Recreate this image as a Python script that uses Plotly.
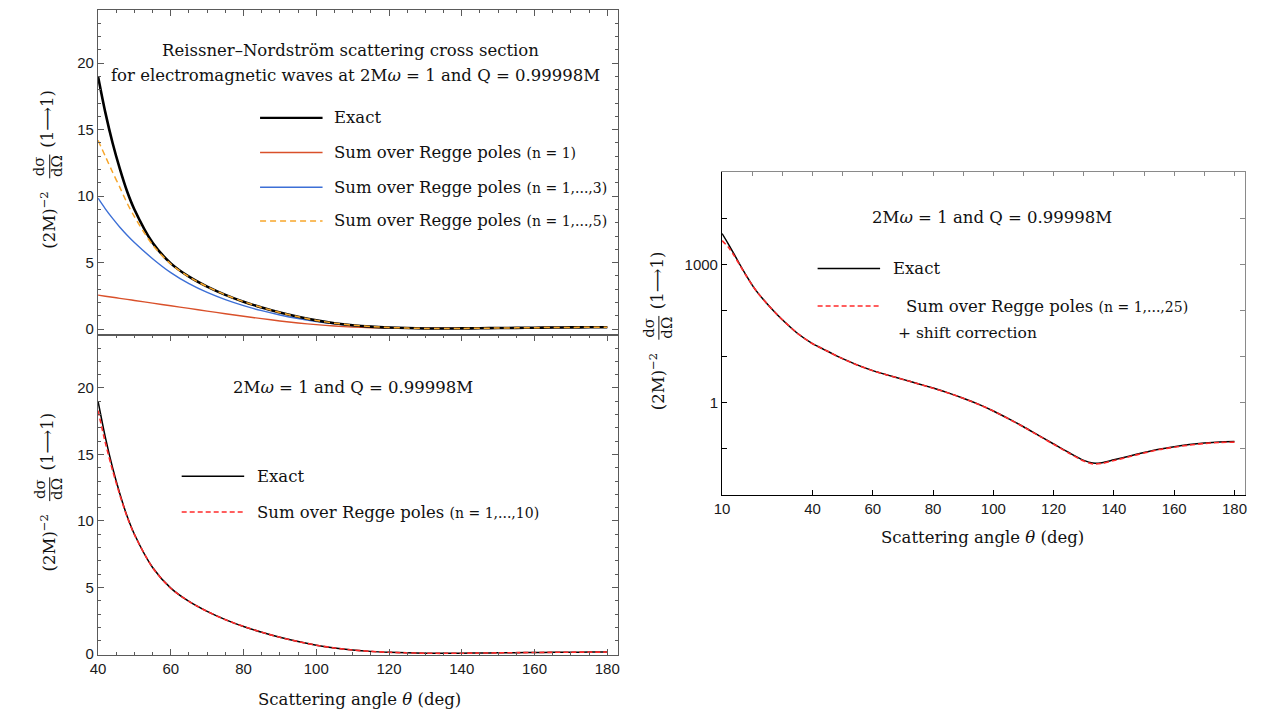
import plotly.graph_objects as go

W, H = 1265, 714

# ---------------- data ----------------
theta = [10, 12, 14, 16, 18, 20, 22, 25, 28, 30, 35, 40, 42, 44, 46, 48, 50, 55, 60, 65,
         70, 75, 80, 85, 90, 95, 100, 105, 110, 115, 120, 125, 130, 133, 136, 140, 145,
         150, 155, 160, 165, 170, 175, 180]

exact = [4650, 2820, 1660, 966, 575, 355, 234, 138, 85, 63, 32, 19.0, 16.3, 14.0, 12.05,
         10.35, 9.0, 6.5, 4.95, 3.95, 3.2, 2.58, 2.07, 1.63, 1.25, 0.93, 0.66, 0.45, 0.3,
         0.195, 0.127, 0.083, 0.056, 0.049, 0.05, 0.0575, 0.069, 0.083, 0.098, 0.111,
         0.123, 0.133, 0.14, 0.143]

regge_25_shift = [3250, 2400, 1540, 930, 565, 352, 233, 137.5, 84.8, 62.8, 31.9, 18.95,
                  16.27, 13.98, 12.03, 10.33, 8.98, 6.49, 4.94, 3.94, 3.19, 2.57, 2.06,
                  1.62, 1.245, 0.926, 0.657, 0.447, 0.298, 0.193, 0.125, 0.081, 0.054,
                  0.047, 0.048, 0.0555, 0.067, 0.081, 0.096, 0.108, 0.12, 0.13, 0.137,
                  0.139]

theta_left = theta[11:]
exact_left = exact[11:]

regge_n1 = [2.56, 2.48, 2.40, 2.32, 2.24, 2.16, 1.96, 1.76, 1.56, 1.36, 1.16, 0.97, 0.79,
            0.62, 0.47, 0.34, 0.235, 0.16, 0.11, 0.085, 0.072, 0.068, 0.07, 0.073, 0.078,
            0.087, 0.097, 0.107, 0.117, 0.127, 0.136, 0.143, 0.148]

regge_n3 = [9.85, 9.05, 8.33, 7.67, 7.07, 6.52, 5.3, 4.25, 3.42, 2.76, 2.22, 1.77, 1.39,
            1.07, 0.8, 0.58, 0.405, 0.275, 0.183, 0.122, 0.082, 0.056, 0.049, 0.05, 0.058,
            0.07, 0.084, 0.099, 0.112, 0.124, 0.134, 0.141, 0.144]

regge_n5 = [14.2, 13.0, 11.8, 10.66, 9.47, 8.46, 6.34, 4.9, 3.94, 3.2, 2.58, 2.07, 1.63,
            1.25, 0.93, 0.66, 0.45, 0.3, 0.195, 0.127, 0.083, 0.056, 0.049, 0.05, 0.0575,
            0.069, 0.083, 0.098, 0.111, 0.123, 0.133, 0.14, 0.143]

regge_n10 = [18.3, 15.9, 13.8, 11.95, 10.3, 8.97, 6.49, 4.94, 3.95, 3.2, 2.58, 2.07, 1.63,
             1.25, 0.93, 0.66, 0.45, 0.3, 0.195, 0.126, 0.082, 0.055, 0.048, 0.049, 0.057,
             0.068, 0.082, 0.097, 0.11, 0.122, 0.132, 0.139, 0.142]

x_ticks_right = [10, 40, 60, 80, 100, 120, 140, 160, 180]
y_labels_log = [1, 1000]
y_ticks_log = [0.1, 1, 10, 100, 1000, 10000]

# ---------------- style ----------------
SERIF = "DejaVu Serif"
SANS = "Liberation Sans"
FRAME = "#5a5a5a"
C_EXACT = "#000000"
C_N1 = "#D9502A"
C_N3 = "#3C6FD6"
C_N5 = "#F7A62B"
C_RED = "#FF2A2A"
FS = 16.5


def px(x):
    return x / W


def py(y):
    return 1 - y / H


fig = go.Figure()


def line(x, y, xa, ya, color, width, dash="solid"):
    fig.add_trace(go.Scatter(x=x, y=y, mode="lines", xaxis=xa, yaxis=ya, showlegend=False,
                             line=dict(color=color, width=width, dash=dash, shape="spline",
                                       smoothing=0.8)))


# top-left panel
line(theta_left, regge_n1, "x", "y", C_N1, 1.4)
line(theta_left, regge_n3, "x", "y", C_N3, 1.4)
line(theta_left, exact_left, "x", "y", C_EXACT, 2.6)
line(theta_left, regge_n5, "x", "y", C_N5, 1.5, "6px,4px")
# bottom-left panel
line(theta_left, exact_left, "x2", "y2", C_EXACT, 1.5)
line(theta_left, regge_n10, "x2", "y2", C_RED, 1.6, "5px,3px")
# right panel
line(theta, exact, "x3", "y3", C_EXACT, 1.5)
line(theta, regge_25_shift, "x3", "y3", C_RED, 1.6, "5px,3px")
# invisible traces realising the overlay axes (frame ticks of the right panel)
for xa, ya in (("x4", "y4"), ("x3", "y5")):
    fig.add_trace(go.Scatter(x=theta, y=exact, mode="lines", line=dict(width=0), opacity=0,
                             xaxis=xa, yaxis=ya, showlegend=False, hoverinfo="skip"))

tickfont = dict(family=SANS, size=15, color="#1a1a1a")

left_dom = [px(82.7), px(607)]
top_dom = [py(330), py(2)]
bot_dom = [py(653.3), py(330)]
right_xdom = [px(711.7), px(1238.5)]
right_ydom = [py(491.7), py(165.7)]

common_y_left = dict(
    tickmode="linear", tick0=0, dtick=5, ticks="inside", ticklen=6, tickwidth=1,
    tickcolor=FRAME, minor=dict(ticks="inside", dtick=1, ticklen=3, tickcolor=FRAME),
    showline=True, linecolor=FRAME, linewidth=1.2, mirror="allticks",
    showgrid=False, zeroline=False, tickfont=tickfont,
)
common_x_left = dict(
    range=[40, 183], tickmode="linear", tick0=40, dtick=20, ticks="inside", ticklen=6,
    tickwidth=1, tickcolor=FRAME,
    minor=dict(ticks="inside", dtick=5, ticklen=3, tickcolor=FRAME),
    showline=True, linecolor=FRAME, linewidth=1.2, showgrid=False, zeroline=False,
    tickfont=tickfont,
)

fig.update_layout(
    width=W, height=H,
    margin=dict(l=0, r=0, t=0, b=0),
    paper_bgcolor="white", plot_bgcolor="white",
    showlegend=False,
    xaxis=dict(common_x_left, domain=left_dom, anchor="y", side="top", mirror=True,
               showticklabels=False),
    yaxis=dict(common_y_left, domain=top_dom, anchor="x", range=[-0.42, 24.0]),
    xaxis2=dict(common_x_left, domain=left_dom, anchor="y2", mirror="allticks"),
    yaxis2=dict(common_y_left, domain=bot_dom, anchor="x2", range=[-0.07, 24.0]),
    xaxis3=dict(domain=right_xdom, anchor="y3", range=[10, 183.4], tickmode="array",
                tickvals=x_ticks_right, ticks="inside", ticklen=5, tickcolor="#000",
                showline=True, linecolor="#000", linewidth=1.2, showgrid=False,
                zeroline=False, tickfont=tickfont),
    yaxis3=dict(domain=right_ydom, anchor="x3", type="log", range=[-2, 5],
                tickmode="array", tickvals=y_labels_log, ticks="inside", ticklen=5,
                tickcolor="#000", showline=True, linecolor="#000", linewidth=1.2,
                showgrid=False, zeroline=False, tickfont=tickfont),
    yaxis5=dict(overlaying="y3", anchor="x3", side="left", type="log", range=[-2, 5],
                tickmode="array", tickvals=y_ticks_log, ticks="inside", ticklen=5,
                tickcolor="#000", showline=False, showticklabels=False,
                showgrid=False, zeroline=False),
    xaxis4=dict(overlaying="x3", anchor="y3", side="top", range=[10, 183.4],
                tickmode="linear", tick0=10, dtick=10, ticks="inside", ticklen=4,
                tickcolor="#888", showline=True, linecolor="#8a8a8a", linewidth=1.2,
                showticklabels=False, showgrid=False, zeroline=False),
    yaxis4=dict(overlaying="y3", anchor="x3", side="right", type="log", range=[-2, 5],
                tickmode="array", tickvals=y_ticks_log, ticks="inside", ticklen=5,
                tickcolor="#888", showline=True, linecolor="#8a8a8a", linewidth=1.2,
                showticklabels=False, showgrid=False, zeroline=False),
)

annotations = []
shapes = []


def text(x, y, s, size=FS, anchor="center", family=SERIF, angle=0, color="#111"):
    annotations.append(dict(x=px(x), y=py(y), xref="paper", yref="paper", text=s,
                            showarrow=False, xanchor=anchor, yanchor="middle",
                            textangle=angle, font=dict(family=family, size=size, color=color)))


def legend_key(x0, x1, y, color, width, dash="solid"):
    shapes.append(dict(type="line", xref="paper", yref="paper", x0=px(x0), x1=px(x1),
                       y0=py(y), y1=py(y), line=dict(color=color, width=width, dash=dash)))


def y_title(cx, cy):
    # (2M)^-2  dσ/dΩ  (1⟶1), rotated; cy = centre of the panel
    text(cx, cy + 48, "(2M)<sup>−2</sup>", size=16.5, angle=-90)
    text(cx - 8, cy - 6, "dσ", size=15, angle=-90)
    text(cx + 10, cy - 6, "dΩ", size=15, angle=-90)
    shapes.append(dict(type="line", xref="paper", yref="paper", x0=px(cx + 2), x1=px(cx + 2),
                       y0=py(cy - 18), y1=py(cy + 6), line=dict(color="#111", width=1)))
    text(cx, cy - 54, "(1⟶1)", size=16.5, angle=-90)


SMALL = "<span style='font-size:14px'>"

# top-left texts
text(337, 43, "Reissner–Nordström scattering cross section")
text(342, 68, "for electromagnetic waves at 2M<i>ω</i> = 1 and Q = 0.99998M")
leg_rows = [(111, C_EXACT, 2.2, "solid", "Exact"),
            (146, C_N1, 1.4, "solid", "Sum over Regge poles " + SMALL + "(n = 1)</span>"),
            (181, C_N3, 1.4, "solid", "Sum over Regge poles " + SMALL + "(n = 1,...,3)</span>"),
            (215, C_N5, 1.5, "6px,4px", "Sum over Regge poles " + SMALL + "(n = 1,...,5)</span>")]
for yy, col, wd, ds, lab in leg_rows:
    legend_key(246, 309, yy, col, wd, ds)
    text(319, yy, lab, anchor="left")
y_title(32, 166)

# bottom-left texts
text(340, 383, "2M<i>ω</i> = 1 and Q = 0.99998M")
legend_key(167, 230, 473, C_EXACT, 1.5)
text(241, 473, "Exact", anchor="left")
legend_key(167, 230, 509, C_RED, 1.6, "5px,3px")
text(241, 509, "Sum over Regge poles " + SMALL + "(n = 1,...,10)</span>", anchor="left")
text(346, 698, "Scattering angle <i>θ</i> (deg)")
y_title(32, 492)

# right panel texts
text(984, 212, "2M<i>ω</i> = 1 and Q = 0.99998M")
legend_key(808, 871, 263, C_EXACT, 1.5)
text(882, 263, "Exact", anchor="left")
legend_key(808, 871, 301, C_RED, 1.6, "5px,3px")
text(895, 301, "Sum over Regge poles " + SMALL + "(n = 1,...,25)</span>", anchor="left")
text(887, 328, "+ shift correction", size=15.5, anchor="left")
text(974, 535, "Scattering angle <i>θ</i> (deg)")
y_title(646, 329)

fig.update_layout(annotations=annotations, shapes=shapes)

fig.write_html("out.html")
